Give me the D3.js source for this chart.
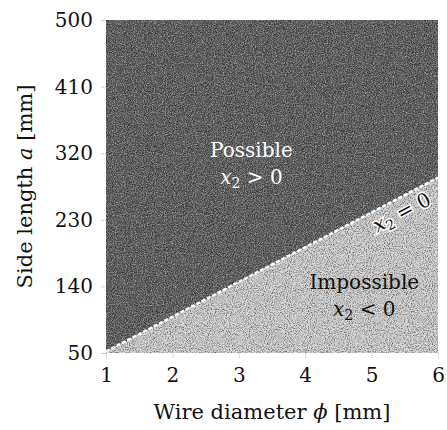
<!DOCTYPE html>
<html lang="en">
<head>
  <meta charset="utf-8">
  <title>Feasible region</title>
  <script src="https://d3js.org/d3.v7.min.js"></script>
  <style>
    body { margin: 0; background: #fff; }
    text { font-family: "DejaVu Serif", "Liberation Serif", serif; fill: #111; }
  </style>
</head>
<body>
  <div id="chart"></div>
  <script>
    // data
    var phiTicks = [1, 2, 3, 4, 5, 6];
    var aTicks = [50, 140, 230, 320, 410, 500];
    var boundaryPhi = [1, 6];
    var boundaryA = [52, 287];

    var width = 447, height = 430;
    var margin = {left: 106, right: 9, top: 20, bottom: 77};

    var svg = d3.select("#chart").append("svg")
      .attr("width", width)
      .attr("height", height);

    var x = d3.scaleLinear().domain([1, 6]).range([margin.left, width - margin.right]);
    var y = d3.scaleLinear().domain([50, 500]).range([height - margin.bottom, margin.top]);

    var defs = svg.append("defs");
    defs.append("clipPath").attr("id", "plotclip")
      .append("rect")
      .attr("x", x(1)).attr("y", y(500))
      .attr("width", x(6) - x(1)).attr("height", y(50) - y(500));

    // grain filters
    var fDark = defs.append("filter").attr("id", "grainDark")
      .attr("x", 0).attr("y", 0).attr("width", 1).attr("height", 1);
    fDark.append("feTurbulence").attr("type", "fractalNoise")
      .attr("baseFrequency", 0.95).attr("numOctaves", 2).attr("seed", 3);
    fDark.append("feColorMatrix").attr("type", "matrix")
      .attr("values", "0 0 0 0 0  0 0 0 0 0  0 0 0 0 0  2.4 0 0 0 -1.0");
    var fLight = defs.append("filter").attr("id", "grainLight")
      .attr("x", 0).attr("y", 0).attr("width", 1).attr("height", 1);
    fLight.append("feTurbulence").attr("type", "fractalNoise")
      .attr("baseFrequency", 0.9).attr("numOctaves", 2).attr("seed", 7);
    fLight.append("feColorMatrix").attr("type", "matrix")
      .attr("values", "0 0 0 0 1  0 0 0 0 1  0 0 0 0 1  0 2.4 0 0 -1.0");

    var plot = svg.append("g").attr("clip-path", "url(#plotclip)");

    var x0 = boundaryPhi[0], x1 = boundaryPhi[1];
    var possible = [[x0, 500], [x1, 500], [x1, boundaryA[1]], [x0, boundaryA[0]]];
    var impossible = [[x0, 50], [x1, 50], [x1, boundaryA[1]], [x0, boundaryA[0]]];
    var area = d3.line().x(d => x(d[0])).y(d => y(d[1]));

    plot.append("path").attr("d", area(possible) + "Z").attr("fill", "#595959");
    plot.append("path").attr("d", area(impossible) + "Z").attr("fill", "#cfcfcf");

    // speckle overlay
    plot.append("rect")
      .attr("x", x(1)).attr("y", y(500))
      .attr("width", x(6) - x(1)).attr("height", y(50) - y(500))
      .attr("filter", "url(#grainDark)").attr("opacity", 0.55);
    plot.append("rect")
      .attr("x", x(1)).attr("y", y(500))
      .attr("width", x(6) - x(1)).attr("height", y(50) - y(500))
      .attr("filter", "url(#grainLight)").attr("opacity", 0.45);

    // boundary x2 = 0
    plot.append("path")
      .datum(d3.zip(boundaryPhi, boundaryA))
      .attr("d", area)
      .attr("fill", "none")
      .attr("stroke", "#fff")
      .attr("stroke-width", 2.5)
      .attr("stroke-dasharray", "4 2");

    // axes
    var xAxis = svg.append("g")
      .attr("transform", "translate(0," + y(50) + ")")
      .call(d3.axisBottom(x).tickValues(phiTicks).tickFormat(d3.format("d"))
        .tickSize(5).tickPadding(9));
    var yAxis = svg.append("g")
      .attr("transform", "translate(" + x(1) + ",0)")
      .call(d3.axisLeft(y).tickValues(aTicks).tickFormat(d3.format("d"))
        .tickSize(5).tickPadding(8));
    [xAxis, yAxis].forEach(g => {
      g.select(".domain").remove();
      g.selectAll(".tick line").attr("stroke", "#aaa").attr("stroke-width", 0.8)
        .attr("stroke-dasharray", "1 1");
      g.selectAll(".tick text").attr("font-size", 20).attr("fill", "#111")
        .style("font-family", "'DejaVu Serif', serif");
    });
    xAxis.selectAll(".tick text").attr("dy", "0.75em");

    // axis titles
    svg.append("text")
      .attr("x", (x(1) + x(6)) / 2).attr("y", 419)
      .attr("text-anchor", "middle").attr("font-size", 21)
      .html('Wire diameter <tspan font-style="italic">ϕ</tspan> [mm]');
    svg.append("text")
      .attr("transform", "translate(32," + ((y(50) + y(500)) / 2) + ") rotate(-90)")
      .attr("text-anchor", "middle").attr("font-size", 21)
      .html('Side length <tspan font-style="italic">a</tspan> [mm]');

    // region labels
    function label(px, py, main, sub, col) {
      svg.append("text").attr("x", px).attr("y", py)
        .attr("text-anchor", "middle").attr("font-size", 20)
        .style("fill", col).text(main);
      svg.append("text").attr("x", px).attr("y", py + 27)
        .attr("text-anchor", "middle").attr("font-size", 20)
        .style("fill", col)
        .html('<tspan font-style="italic">x</tspan><tspan font-size="14" dy="4">2</tspan><tspan dy="-4"> ' + sub + '</tspan>');
    }
    label(x(3.19), y(315), "Possible", "&gt; 0", "#fff");
    label(x(4.89), y(137), "Impossible", "&lt; 0", "#111");

    var ang = Math.atan2(y(boundaryA[1]) - y(boundaryA[0]), x(x1) - x(x0)) * 180 / Math.PI;
    svg.append("text")
      .attr("transform", "translate(" + x(5.5) + "," + y(232) + ") rotate(" + ang + ")")
      .attr("text-anchor", "middle").attr("font-size", 20)
      .style("fill", "#111")
      .style("stroke", "#fff").style("stroke-width", 3).style("paint-order", "stroke")
      .html('<tspan font-style="italic">x</tspan><tspan font-size="14" dy="4">2</tspan><tspan dy="-4"> = 0</tspan>');
  </script>
</body>
</html>
